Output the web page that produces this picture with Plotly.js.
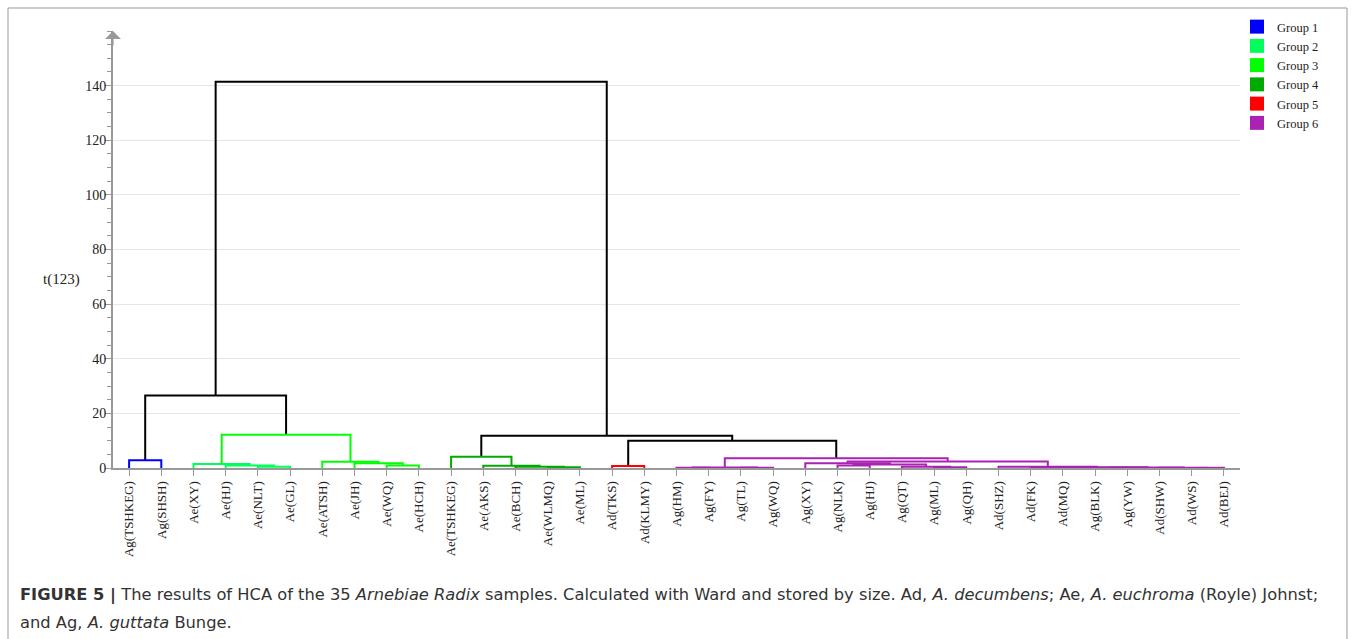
<!DOCTYPE html>
<html><head><meta charset="utf-8">
<script src="https://cdn.plot.ly/plotly-3.0.1.min.js"></script>
<style>html,body{margin:0;padding:0;background:#fff;} #chart{width:1355px;height:639px;}</style>
</head><body><div id="chart"></div>
<script>
// Leaf labels in dendrogram order
const leafLabels = ['Ag(TSHKEG)','Ag(SHSH)','Ae(XY)','Ae(HJ)','Ae(NLT)','Ae(GL)','Ae(ATSH)','Ae(JH)','Ae(WQ)','Ae(HCH)',
  'Ae(TSHKEG)','Ae(AKS)','Ae(BCH)','Ae(WLMQ)','Ae(ML)','Ad(TKS)','Ad(KLMY)','Ag(HM)','Ag(FY)','Ag(TL)',
  'Ag(WQ)','Ag(XY)','Ag(NLK)','Ag(HJ)','Ag(QT)','Ag(ML)','Ag(QH)','Ad(SHZ)','Ad(FK)','Ad(MQ)',
  'Ag(BLK)','Ag(YW)','Ad(SHW)','Ad(WS)','Ad(BEJ)'];
// Merges (ids >= 35 refer to earlier merges, id = 35 + merge index)
const mergeLeft   = [0, 4, 3, 2, 8, 7, 6, 38, 13, 12, 11, 10, 15, 17, 19, 48, 22, 25, 24, 51, 21, 28, 30, 33, 32, 57, 56, 27, 55, 50, 47, 46, 35, 67];
const mergeRight  = [1, 5, 36, 37, 9, 39, 40, 41, 14, 43, 44, 45, 16, 18, 20, 49, 23, 26, 52, 53, 54, 29, 31, 34, 58, 59, 60, 61, 62, 63, 64, 65, 42, 66];
const mergeHeight = [2.8, 0.5, 0.9, 1.5, 0.9, 1.7, 2.3, 12.2, 0.3, 0.5, 0.8, 4.1, 0.7, 0.1, 0.1, 0.2, 0.9, 0.3, 0.5, 1.3, 1.7, 0.15, 0.1, 0.05, 0.1, 0.2, 0.3, 0.5, 2.4, 3.6, 10.0, 11.8, 26.5, 141.4];
const mergeGroup  = [1, 2, 2, 2, 3, 3, 3, 3, 4, 4, 4, 4, 5, 6, 6, 6, 6, 6, 6, 6, 6, 6, 6, 6, 6, 6, 6, 6, 6, 6, 0, 0, 0, 0];
const groupNames  = ['', 'Group 1', 'Group 2', 'Group 3', 'Group 4', 'Group 5', 'Group 6'];
const groupColors = ['#000000', '#0000ff', '#00ff5a', '#00ff00', '#00aa00', '#ff0000', '#aa22b4'];
const yTickVals = [0, 20, 40, 60, 80, 100, 120, 140];

const n = leafLabels.length;
const pos = [], ht = [];
for (let i = 0; i < n; i++) { pos[i] = i; ht[i] = 0; }
const segX = groupColors.map(() => []), segY = groupColors.map(() => []);
mergeLeft.forEach((l, k) => {
  const r = mergeRight[k], h = mergeHeight[k], id = n + k, g = mergeGroup[k];
  pos[id] = (pos[l] + pos[r]) / 2; ht[id] = h;
  segX[g].push(pos[l], pos[l], pos[r], pos[r], null);
  segY[g].push(ht[l], h, h, ht[r], null);
});

const traces = [];
groupColors.forEach((c, g) => {
  traces.push({type: 'scatter', mode: 'lines', x: segX[g], y: segY[g], showlegend: false,
    hoverinfo: 'skip', line: {color: c, width: 2}});
});
for (let g = 1; g < groupNames.length; g++) {
  traces.push({type: 'scatter', mode: 'markers', x: [null], y: [null], name: groupNames[g],
    marker: {symbol: 'square', size: 14, color: groupColors[g]}, showlegend: true});
}

const W = 1355, H = 639;
const layout = {
  width: W, height: H, margin: {l: 0, r: 0, t: 0, b: 0},
  paper_bgcolor: '#fff', plot_bgcolor: '#fff',
  font: {family: 'Liberation Serif', size: 13, color: '#222'},
  showlegend: true,
  xaxis: {domain: [113 / W, 1240 / W], range: [-0.5, 34.5], tickmode: 'array',
    tickvals: leafLabels.map((_, i) => i), ticktext: leafLabels, tickangle: -90,
    ticks: 'outside', ticklen: 6, tickcolor: '#999', showline: true, linecolor: '#999', linewidth: 2,
    showgrid: false, zeroline: false, tickfont: {family: 'Liberation Serif', size: 13, color: '#222'}},
  yaxis: {domain: [(H - 468) / H, (H - 31) / H], range: [0, 160], tickmode: 'array', tickvals: yTickVals,
    ticks: 'outside', ticklen: 6, tickcolor: '#999', showline: true, linecolor: '#999', linewidth: 2,
    showgrid: true, gridcolor: '#e6e6e6', gridwidth: 1, zeroline: false, ticklabelstandoff: -4,
    minor: {dtick: 5, tick0: 0, ticks: 'outside', ticklen: 4, tickcolor: '#999', showgrid: false},
    tickfont: {family: 'Liberation Serif', size: 14, color: '#222'}},
  legend: {x: 1237 / W, y: 1 - 12 / H, xanchor: 'left', yanchor: 'top', itemwidth: 30, tracegroupgap: 0,
    font: {family: 'Liberation Serif', size: 12.5, color: '#222'}, bgcolor: 'rgba(0,0,0,0)'},
  shapes: [{type: 'rect', xref: 'paper', yref: 'paper', x0: 8 / W, x1: 1347 / W, y0: -0.1, y1: 1 - 8 / H,
    line: {color: '#999', width: 1}, fillcolor: 'rgba(0,0,0,0)'}],
  annotations: [
    {text: 't(123)', xref: 'paper', yref: 'y', x: 61 / W, y: 69, xanchor: 'center', showarrow: false,
      font: {family: 'Liberation Serif', size: 15, color: '#222'}},
    {text: '', xref: 'x', yref: 'y', x: -0.5, y: 160, showarrow: true, ax: 0, ay: 16,
      arrowhead: 1, arrowsize: 2.2, arrowwidth: 1.2, arrowcolor: '#999', standoff: 0},
    {text: '<b>FIGURE 5 |</b> The results of HCA of the 35 <i>Arnebiae Radix</i> samples. Calculated with Ward and stored by size. Ad, <i>A. decumbens</i>; Ae, <i>A. euchroma</i> (Royle) Johnst;',
      xref: 'paper', yref: 'paper', x: 18 / W, y: 1 - 595 / H, xanchor: 'left', yanchor: 'middle', showarrow: false,
      font: {family: 'DejaVu Sans', size: 16.3, color: '#333'}},
    {text: 'and Ag, <i>A. guttata</i> Bunge.',
      xref: 'paper', yref: 'paper', x: 18 / W, y: 1 - 622 / H, xanchor: 'left', yanchor: 'middle', showarrow: false,
      font: {family: 'DejaVu Sans', size: 16.3, color: '#333'}}
  ]
};
Plotly.newPlot('chart', traces, layout, {displayModeBar: false, staticPlot: true});
</script>
</body></html>
